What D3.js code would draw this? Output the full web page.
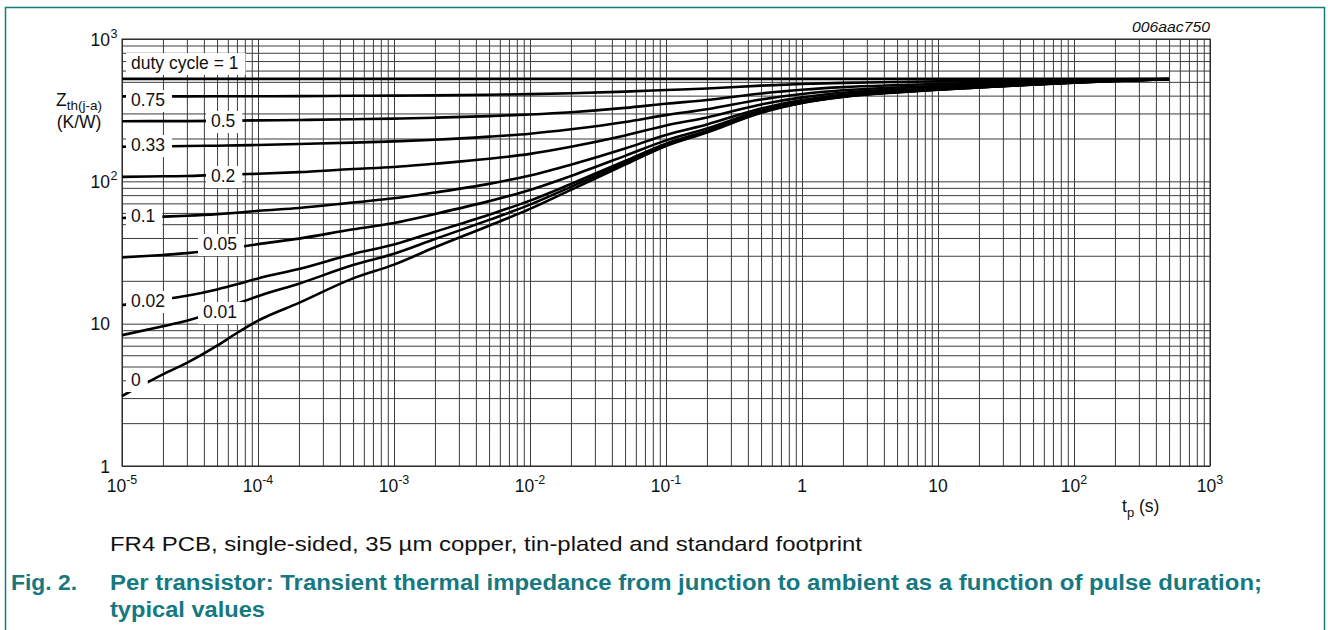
<!DOCTYPE html>
<html>
<head>
<meta charset="utf-8">
<script src="https://cdn.jsdelivr.net/npm/d3@7"></script>
<style>
body { margin: 0; background: #fff; }
text { font-family: "Liberation Sans", Arial, sans-serif; fill: #111; }
</style>
</head>
<body>
<script>
// pulse duration tp (s), shared by all curves
var tp = [1e-5, 2e-5, 3e-5, 5e-5, 7e-5, 1e-4, 2e-4, 5e-4, 1e-3, 2e-3, 5e-3, 1e-2, 2e-2, 5e-2,
          0.1, 0.2, 0.5, 1, 2, 5, 10, 20, 50, 100, 200, 500];

// Zth(j-a) in K/W, one array per duty cycle
var zD100 = [525, 525];            // flat line, drawn from first to last tp
var zD75 = [395, 395, 395, 396, 396, 396, 397, 399, 400, 402, 406, 410, 416, 427,
            438, 449, 470, 483, 492, 499, 504, 508, 513, 517, 521, 524];
var zD50 = [264, 265, 265, 266, 267, 268, 270, 273, 276, 280, 287, 295, 306, 328,
            351, 373, 414, 440, 459, 474, 483, 491, 502, 510, 517, 524];
var zD33 = [175, 176, 177, 178, 179, 180, 183, 187, 191, 196, 206, 216, 232, 261,
            292, 321, 376, 411, 436, 456, 468, 479, 494, 504, 514, 523];
var zD20 = [107.5, 108.5, 109, 111, 112, 113, 116, 122, 126, 133, 144, 156, 175, 210,
            247, 281, 347, 389, 419, 443, 457, 470, 487, 500, 511, 523];
var zD10 = [55.3, 56.5, 57.3, 58.8, 60.2, 62, 65, 71, 76, 83.5, 96, 110, 131, 170,
            212, 251, 325, 372, 405, 432, 449, 463, 483, 497, 510, 522];
var zD05 = [29.2, 30.4, 31.3, 32.9, 34.4, 36.2, 39.6, 46, 51, 59, 72.6, 87, 109, 151,
            194, 235, 314, 364, 399, 427, 444, 460, 480, 496, 509, 522];
var zD02 = [13.5, 14.8, 15.7, 17.4, 18.9, 20.8, 24.2, 30.9, 36, 44.2, 58.3, 73.2, 95.8, 139,
            184, 226, 307, 358, 395, 424, 442, 457, 479, 495, 508, 522];
var zD01 = [8.3, 9.6, 10.5, 12.2, 13.8, 15.6, 19.1, 25.8, 31, 39.3, 53.6, 68.6, 91.4, 135,
            180.5, 223, 305, 357, 393, 423, 441, 457, 478.5, 494, 508, 522];
var zD00 = [3.1, 4.4, 5.3, 7.0, 8.6, 10.5, 14, 20.8, 26, 34.4, 48.8, 64, 87, 131,
            177, 220, 303, 355, 392, 422, 440, 456, 478, 494, 508, 522];

var dutyLabels = ["duty cycle = 1", "0.75", "0.5", "0.33", "0.2", "0.1", "0.05", "0.02", "0.01", "0"];

// axis decades (exponents of ten)
var xExps = [-5, -4, -3, -2, -1, 0, 1, 2, 3];
var yExps = [0, 1, 2, 3];

// label placement (left x, text baseline) in px
var labelPos = [[131, 69], [131, 106], [211, 127], [131, 151], [211, 182],
                [131, 222], [203, 250], [131, 307], [203, 318], [131, 386]];

var W = 1328, H = 630;
var teal = "#15797f";

var svg = d3.select("body").append("svg")
    .attr("width", W)
    .attr("height", H);

// outer frame
svg.append("rect")
    .attr("x", 5.5).attr("y", 7.5)
    .attr("width", 1319).attr("height", 660)
    .attr("fill", "none")
    .attr("stroke", teal)
    .attr("stroke-width", 1.5);

var x = d3.scaleLog().domain([1e-5, 1e3]).range([122, 1210]);
var y = d3.scaleLog().domain([1, 1e3]).range([466, 39]);
var plotW = x.range()[1] - x.range()[0];
var plotH = y.range()[0] - y.range()[1];

// grid (every 1..9 of each decade)
svg.append("g")
    .attr("transform", "translate(0," + y.range()[0] + ")")
    .call(d3.axisBottom(x).tickValues(x.ticks()).tickSize(-plotH).tickFormat(""));
svg.append("g")
    .attr("transform", "translate(" + x.range()[0] + ",0)")
    .call(d3.axisLeft(y).tickValues(y.ticks()).tickSize(-plotW).tickFormat(""));
svg.selectAll(".domain").remove();
svg.selectAll(".tick line").attr("stroke", "#3c3c3c").attr("stroke-width", 1);

svg.append("rect")
    .attr("x", x.range()[0]).attr("y", y.range()[1])
    .attr("width", plotW).attr("height", plotH)
    .attr("fill", "none").attr("stroke", "#222").attr("stroke-width", 1);

// curves
var series = [zD100, zD75, zD50, zD33, zD20, zD10, zD05, zD02, zD01, zD00];
var line = d3.line()
    .x(function (d) { return x(d[0]); })
    .y(function (d) { return y(d[1]); })
    .curve(d3.curveMonotoneX);

series.forEach(function (vals) {
    var pts = vals.length === 2
        ? [[tp[0], vals[0]], [tp[tp.length - 1], vals[1]]]
        : vals.map(function (v, j) { return [tp[j], v]; });
    svg.append("path")
        .attr("d", line(pts))
        .attr("fill", "none")
        .attr("stroke", "#000")
        .attr("stroke-width", 2.6)
        .attr("stroke-linejoin", "round");
});

// duty cycle labels on white boxes
dutyLabels.forEach(function (lab, i) {
    var g = svg.append("g");
    var box = g.append("rect").attr("fill", "#fff");
    var t = g.append("text")
        .attr("x", labelPos[i][0]).attr("y", labelPos[i][1])
        .attr("font-size", 17.5)
        .text(lab);
    var w = t.node().getComputedTextLength();
    box.attr("x", labelPos[i][0] - 5).attr("y", labelPos[i][1] - 16)
        .attr("width", w + 12).attr("height", 22);
});

// x tick labels
xExps.forEach(function (e) {
    var t = svg.append("text")
        .attr("x", x(Math.pow(10, e)))
        .attr("y", 492)
        .attr("text-anchor", "middle")
        .attr("font-size", 17.5);
    if (e === 0) { t.text("1"); return; }
    if (e === 1) { t.text("10"); return; }
    t.append("tspan").text("10");
    t.append("tspan").attr("dy", -8).attr("font-size", 12.5).text(e);
});

// y tick labels
yExps.forEach(function (e) {
    var yy = y(Math.pow(10, e)) + 6.5;
    var base = e === 0 ? "1" : "10";
    svg.append("text")
        .attr("x", 110).attr("y", yy)
        .attr("text-anchor", "end")
        .attr("font-size", 17.5)
        .text(base);
    if (e > 1) {
        svg.append("text")
            .attr("x", 110.5).attr("y", yy - 8)
            .attr("font-size", 12.5)
            .text(e);
    }
});

// axis titles
var yt = svg.append("text")
    .attr("x", 79).attr("y", 106)
    .attr("text-anchor", "middle")
    .attr("font-size", 17.5);
yt.append("tspan").text("Z");
yt.append("tspan").attr("dy", 4).attr("font-size", 13.5).text("th(j-a)");
svg.append("text")
    .attr("x", 79).attr("y", 128)
    .attr("text-anchor", "middle")
    .attr("font-size", 17.5)
    .text("(K/W)");

var xt = svg.append("text")
    .attr("x", 1122).attr("y", 512)
    .attr("font-size", 17.5);
xt.append("tspan").text("t");
xt.append("tspan").attr("dy", 5).attr("font-size", 13).text("p");
xt.append("tspan").attr("dy", -5).text(" (s)");

svg.append("text")
    .attr("x", 1210).attr("y", 32)
    .attr("text-anchor", "end")
    .attr("font-size", 15)
    .attr("font-style", "italic")
    .attr("textLength", 78)
    .attr("lengthAdjust", "spacingAndGlyphs")
    .text("006aac750");

// captions
svg.append("text")
    .attr("x", 110).attr("y", 551)
    .attr("font-size", 21)
    .attr("textLength", 752)
    .attr("lengthAdjust", "spacingAndGlyphs")
    .text("FR4 PCB, single-sided, 35 \u00b5m copper, tin-plated and standard footprint");

var capStyle = function (sel) {
    return sel.attr("font-size", 22).attr("font-weight", "bold").style("fill", teal);
};
capStyle(svg.append("text").attr("x", 11).attr("y", 590)
    .attr("textLength", 66).attr("lengthAdjust", "spacingAndGlyphs")
    .text("Fig. 2."));
capStyle(svg.append("text").attr("x", 110).attr("y", 590)
    .attr("textLength", 1152).attr("lengthAdjust", "spacingAndGlyphs")
    .text("Per transistor: Transient thermal impedance from junction to ambient as a function of pulse duration;"));
capStyle(svg.append("text").attr("x", 110).attr("y", 617)
    .attr("textLength", 155).attr("lengthAdjust", "spacingAndGlyphs")
    .text("typical values"));
</script>
</body>
</html>
